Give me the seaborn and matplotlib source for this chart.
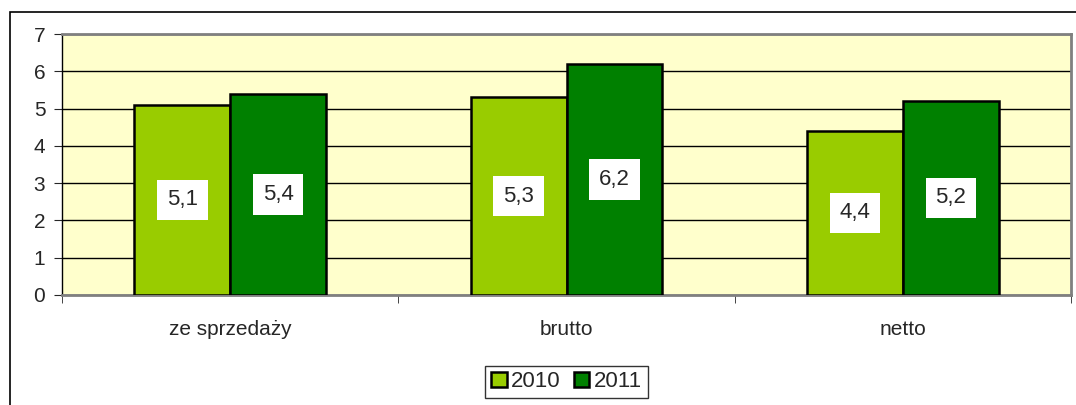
import matplotlib
matplotlib.use("Agg")
import matplotlib.pyplot as plt
import seaborn as sns
import pandas as pd
from matplotlib.patches import Rectangle

categories = ["ze sprzedaży", "brutto", "netto"]
years = ["2010", "2011"]
values_2010 = [5.1, 5.3, 4.4]
values_2011 = [5.4, 6.2, 5.2]

df = pd.DataFrame({
    "kategoria": categories * 2,
    "rok": [years[0]] * 3 + [years[1]] * 3,
    "wartosc": values_2010 + values_2011,
})

sns.set_style("white")
plt.rcParams["font.family"] = ["Liberation Sans", "DejaVu Sans"]

fig = plt.figure(figsize=(10.76, 4.05), dpi=100)
ax = fig.add_axes([0.0576, 0.272, 0.9378, 0.644])

# outer chart border
fig.patches.append(Rectangle((10 / 1076, -0.01), 1.1, 1 - 12 / 405 + 0.01,
                             transform=fig.transFigure, fill=False,
                             edgecolor="black", linewidth=1.2))

sns.barplot(data=df, x="kategoria", y="wartosc", hue="rok",
            palette=["#99CC00", "#008000"], width=0.57, gap=0,
            edgecolor="black", linewidth=1.8, saturation=1, ax=ax, zorder=3)

ax.set_facecolor("#FFFFCC")
ax.set_ylim(0, 7)
ax.set_xlim(-0.5, 2.5)
ax.set_yticks(range(8))
ax.grid(axis="y", color="black", linewidth=1, zorder=0)
ax.set_axisbelow(True)
ax.set_xlabel("")
ax.set_ylabel("")
ax.tick_params(axis="y", labelsize=15, length=6, direction="out", left=True, pad=6)
ax.tick_params(axis="x", labelsize=15, length=0, pad=18)
ax.set_xticks(range(3))
ax.set_xticklabels(categories)
ax.set_xticks([-0.5, 0.5, 1.5, 2.5], minor=True)
ax.tick_params(axis="x", which="minor", length=6, bottom=True, direction="out")

for side in ["top", "right", "bottom"]:
    ax.spines[side].set_color("#808080")
    ax.spines[side].set_linewidth(2)
ax.spines["left"].set_color("black")
ax.spines["left"].set_linewidth(1)

for container in ax.containers:
    for bar in container:
        h = bar.get_height()
        ax.text(bar.get_x() + bar.get_width() / 2, h / 2,
                f"{h:.1f}".replace(".", ","), ha="center", va="center",
                fontsize=16, zorder=5,
                bbox=dict(facecolor="white", edgecolor="none", pad=7))

leg = ax.legend(loc="center", bbox_to_anchor=(0.5, -0.333), ncol=2,
                frameon=True, fancybox=False, edgecolor="black",
                fontsize=16, handlelength=0.7, handleheight=0.7,
                handletextpad=0.2, columnspacing=0.6, borderpad=0.25)
leg.get_frame().set_linewidth(1)

fig.savefig("out.png", dpi=100)
